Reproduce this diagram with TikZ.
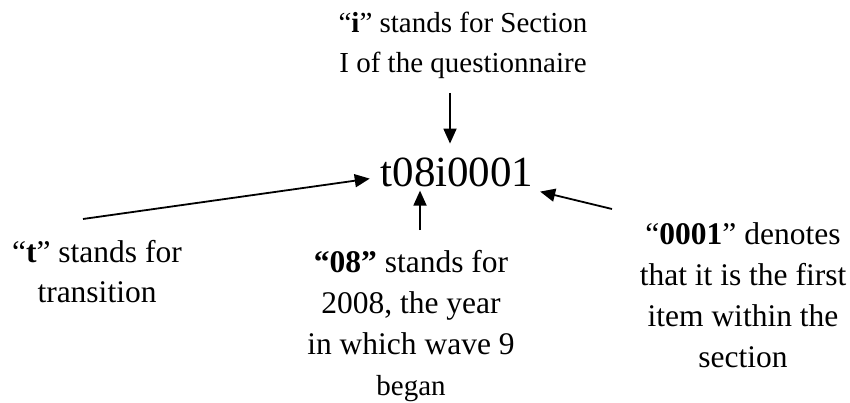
\documentclass[tikz,border=0pt]{standalone}
\usepackage{fontspec}
\setmainfont{Liberation Serif}
\usetikzlibrary{arrows.meta}

\tikzset{
  label/.style={inner sep=0pt, align=center, anchor=base,
                font=\fontsize{31.5}{41}\selectfont},
  arr/.style={line width=1.8pt, -{Triangle[length=15pt,width=13pt]}}
}

\begin{document}
\begin{tikzpicture}[x=1pt,y=-1pt]
  \useasboundingbox (0,0) rectangle (850,403);

  % variable name in the middle
  \node[inner sep=0pt, anchor=base, font=\fontsize{43}{50}\selectfont]
    (code) at (457,187) {t08i0001};

  % explanations of each part (anchored at the baseline of the last line)
  \node[label, font=\fontsize{29}{40}\selectfont] (sec) at (463,73)
    {“\textbf{i}” stands for Section\\I of the questionnaire};
  \node[label, font=\fontsize{31.5}{40}\selectfont] (trans) at (97,302)
    {“\textbf{t}” stands for\\transition};
  \node[label] (year) at (411,395)
    {\textbf{“08”} stands for\\2008, the year\\in which wave 9\\
     {\fontsize{29}{41}\selectfont began}};
  \node[label] (item) at (743,367)
    {“\textbf{0001}” denotes\\that it is the first\\item within the\\section};

  % arrow tails next to the explanations
  \coordinate (secEnd) at (450,93);
  \coordinate (transEnd) at (83,219);
  \coordinate (yearEnd) at (420,230);
  \coordinate (itemEnd) at (612,209);

  \draw[arr] (secEnd) -- ([xshift=-7pt,yshift=14.6pt]code.north);
  \draw[arr] (transEnd) -- ([xshift=-10.6pt,yshift=-5.7pt]code.west);
  \draw[arr] (yearEnd) -- ([xshift=-37pt,yshift=-3pt]code.south);
  \draw[arr] (itemEnd) -- ([xshift=6.5pt,yshift=-18.7pt]code.east);
\end{tikzpicture}
\end{document}
